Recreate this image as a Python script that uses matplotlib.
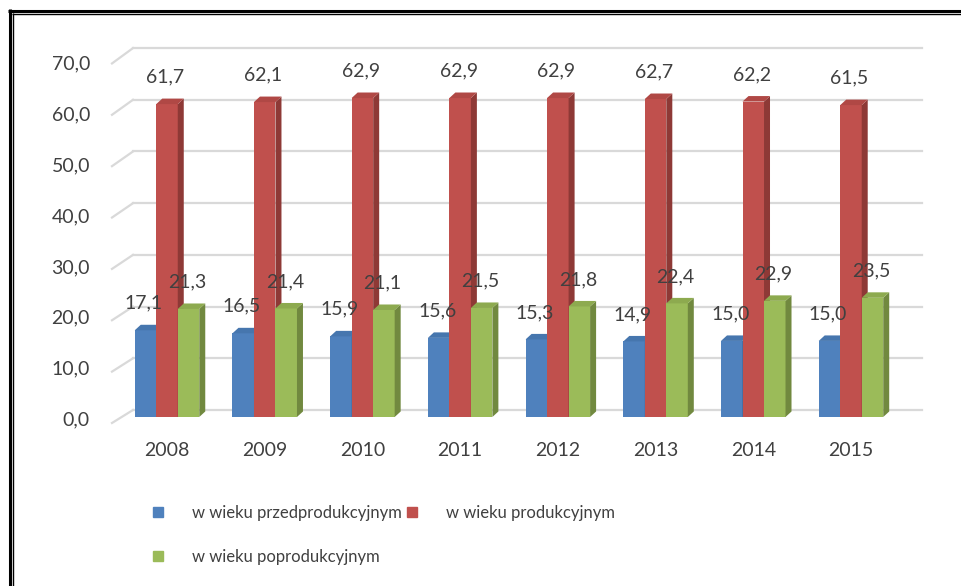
import numpy as np
import matplotlib
matplotlib.use('Agg')
import matplotlib.pyplot as plt
from matplotlib.patches import Polygon
from matplotlib.lines import Line2D

# dane
years = ['2008', '2009', '2010', '2011', '2012', '2013', '2014', '2015']
przed = [17.1, 16.5, 15.9, 15.6, 15.3, 14.9, 15.0, 15.0]
prod = [61.7, 62.1, 62.9, 62.9, 62.9, 62.7, 62.2, 61.5]
popr = [21.3, 21.4, 21.1, 21.5, 21.8, 22.4, 22.9, 23.5]
series_names = ['w wieku przedprodukcyjnym', 'w wieku produkcyjnym', 'w wieku poprodukcyjnym']
y_ticks = [0, 10, 20, 30, 40, 50, 60, 70]

# kolory (front, bok, góra)
FRONT = ['#4F81BD', '#C0504D', '#9BBB59']
SIDE = ['#3A6290', '#8E3936', '#71893F']
TOP = ['#4676AE', '#B04845', '#8DAA4F']
GRID = '#D9D9D9'
TXT = '#404040'
FS = 14

plt.rcParams['font.family'] = ['Lato', 'DejaVu Sans']

W, H = 961, 586
fig = plt.figure(figsize=(W / 100, H / 100), dpi=100)
fig.patch.set_facecolor('white')

# osie w pikselach
ax_l, ax_r, ax_b, ax_t = 112, 922, 417, 62
ax = fig.add_axes([ax_l / W, 1 - ax_b / H, (ax_r - ax_l) / W, (ax_b - ax_t) / H])
ax.set_xlim(-0.563, 7.727)
ax.set_ylim(0, 70)
ax.axis('off')

ux = (ax.get_xlim()[1] - ax.get_xlim()[0]) / (ax_r - ax_l)   # jednostki na piksel
uy = 70 / (ax_b - ax_t)

x = np.arange(len(years))
bw = 21.5 * ux
ddx, ddy = 6 * ux, 5.5 * uy

# siatka (tylna ściana + skos po lewej)
x_back0 = -0.563 + 21 * ux
for v in y_ticks:
    yb = 1.38 + 1.0195 * v
    yf = -1.18 + 1.0128 * v
    ax.plot([x_back0, 7.727], [yb, yb], color=GRID, lw=1.6, zorder=0, clip_on=False)
    ax.plot([-0.563, x_back0], [yf, yb], color=GRID, lw=1.6, zorder=0, clip_on=False)
    ax.text(-0.563 - 22 * ux, (v * 5.086 - 3) * uy, f'{v:.1f}'.replace('.', ','), ha='right',
            va='center', fontsize=FS, color=TXT)

# słupki 3D
for i, vals in enumerate([przed, prod, popr]):
    offs = (i - 1) * bw
    for j, v in enumerate(vals):
        xl = x[j] + offs - bw / 2
        xr = xl + bw
        z = 2 + i
        ax.bar(xl + bw / 2, v, width=bw, color=FRONT[i], zorder=z, linewidth=0)
        ax.add_patch(Polygon([(xr, 0), (xr + ddx, ddy), (xr + ddx, v + ddy), (xr, v)],
                             closed=True, facecolor=SIDE[i], edgecolor='none', zorder=z, clip_on=False))
        ax.add_patch(Polygon([(xl, v), (xl + ddx, v + ddy), (xr + ddx, v + ddy), (xr, v)],
                             closed=True, facecolor=TOP[i], edgecolor='none', zorder=z, clip_on=False))
        ax.text(xl + bw / 2 - 1.5 * ux, v + 27 * uy, f'{v:.1f}'.replace('.', ','), ha='center',
                va='center', fontsize=FS, color=TXT, zorder=10)

# etykiety lat
for j, yr in enumerate(years):
    ax.text(x[j], -34 * uy, yr, ha='center', va='center', fontsize=FS, color=TXT, clip_on=False)

# legenda
handles = [Line2D([], [], marker='s', ls='none', color=FRONT[k], markersize=7.5) for k in range(3)]
order = [0, 2, 1]
fig.legend([handles[k] for k in order], [series_names[k] for k in order],
           loc='upper left', bbox_to_anchor=(141 / W, 1 - 497 / H), bbox_transform=fig.transFigure,
           ncol=2, frameon=False, fontsize=12, handlelength=1.0, handletextpad=1.55,
           columnspacing=0.1, labelspacing=1.65, borderpad=0, labelcolor=TXT)

# podwójna ramka (góra i lewo)
def fline(xs, ys, lw):
    fig.add_artist(Line2D([a / W for a in xs], [1 - b / H for b in ys], color='black', lw=lw,
                          transform=fig.transFigure, solid_capstyle='butt'))

fline([9.7, 9.7], [9.3, H], 2.2)
fline([8.3, W], [10.7, 10.7], 2.2)
fline([12.7, 12.7], [13.3, H], 1.0)
fline([12.0, W], [14.0, 14.0], 1.0)

fig.savefig('out.png', dpi=100)
